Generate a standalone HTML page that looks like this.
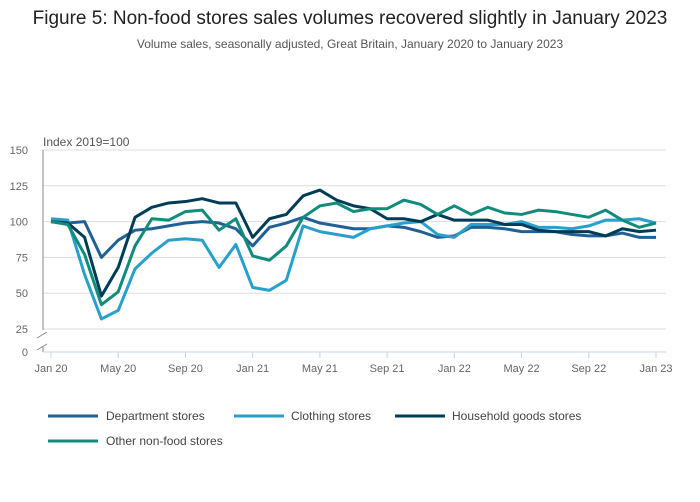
<!DOCTYPE html>
<html><head><meta charset="utf-8"><style>
body{margin:0;background:#fff;font-family:"Liberation Sans",sans-serif;}
#wrap{position:relative;width:700px;height:502px;overflow:hidden;}
svg text{font-family:"Liberation Sans",sans-serif;}
</style></head><body>
<div id="wrap">
<svg id="chart" width="700" height="502">
<text x="350" y="24" text-anchor="middle" font-size="19" fill="#222">Figure 5: Non-food stores sales volumes recovered slightly in January 2023</text>
<text x="350" y="48" text-anchor="middle" font-size="12" fill="#555">Volume sales, seasonally adjusted, Great Britain, January 2020 to January 2023</text>
<text x="43" y="146" font-size="12" fill="#555">Index 2019=100</text>
<g id="grid"></g><g id="series"></g><g id="xaxis"></g>
<g>
<line x1="48" y1="416" x2="98" y2="416" stroke="#206095" stroke-width="3"/>
<text x="106" y="420" font-size="12" fill="#444">Department stores</text>
<line x1="234" y1="416" x2="284" y2="416" stroke="#27a0cc" stroke-width="3"/>
<text x="291" y="420" font-size="12" fill="#444">Clothing stores</text>
<line x1="395" y1="416" x2="445" y2="416" stroke="#003c57" stroke-width="3"/>
<text x="452" y="420" font-size="12" fill="#444">Household goods stores</text>
<line x1="48" y1="441" x2="98" y2="441" stroke="#118c7b" stroke-width="3"/>
<text x="106" y="445" font-size="12" fill="#444">Other non-food stores</text>
</g>
</svg></div>
<script>
const yTicks=[150,125,100,75,50,25];
const xTickLabels=["Jan 20","May 20","Sep 20","Jan 21","May 21","Sep 21","Jan 22","May 22","Sep 22","Jan 23"];
const department=[100,99,100,75,87,94,95,97,99,100,99,95,83,96,99,103,99,97,95,95,97,96,93,89,90,96,96,95,93,93,93,91,90,90,92,89,89];
const clothing=[102,101,63,32,38,67,78,87,88,87,68,84,54,52,59,97,93,91,89,95,97,99,100,91,89,98,98,98,100,96,96,95,97,101,101,102,99];
const household=[100,99,89,48,68,103,110,113,114,116,113,113,89,102,105,118,122,115,111,109,102,102,100,105,101,101,101,98,98,94,93,93,93,90,95,93,94];
const other=[100,98,77,42,51,83,102,101,107,108,94,102,76,73,83,103,111,113,107,109,109,115,112,105,111,105,110,106,105,108,107,105,103,108,101,96,99];
const NS="http://www.w3.org/2000/svg";
const x=i=>51+i*(605/36);
const y=v=>329-(v-25)*(179/125);
function mk(t,a,p){const e=document.createElementNS(NS,t);for(const k in a)e.setAttribute(k,a[k]);p.appendChild(e);return e;}
const grid=document.getElementById('grid');
yTicks.forEach(v=>{
 const l=mk('line',{x1:43,x2:666,y1:y(v),y2:y(v),stroke:'#ddd','stroke-width':1},grid);
 
 
 const t=mk('text',{x:28,y:y(v)+4,'text-anchor':'end','font-size':11,fill:'#666'},grid);
 t.textContent=v;
 
 
});
const z=mk('text',{x:28,y:356,'text-anchor':'end','font-size':11,fill:'#666'},grid);z.textContent='0';


mk('line',{x1:43,x2:43,y1:150,y2:330,stroke:'#888'},grid);
mk('line',{x1:43,x2:43,y1:346,y2:352,stroke:'#888'},grid);
mk('line',{x1:37,x2:47,y1:338,y2:332,stroke:'#888'},grid);
mk('line',{x1:37,x2:47,y1:350,y2:344,stroke:'#888'},grid);
const xa=document.getElementById('xaxis');
mk('line',{x1:43,x2:666,y1:352,y2:352,stroke:'#c4d4e8'},xa);
xTickLabels.forEach((s,k)=>{
 const xi=x(k*4);
 mk('line',{x1:xi,x2:xi,y1:352,y2:358,stroke:'#c4d4e8'},xa);
 const t=mk('text',{x:xi,y:372,'text-anchor':'middle','font-size':11,fill:'#666'},xa);
 t.textContent=s;
 
 
});
const sg=document.getElementById('series');
[[department,'#206095','department-stores-line'],[clothing,'#27a0cc','clothing-stores-line'],[household,'#003c57','household-goods-line'],[other,'#118c7b','other-non-food-line']].forEach(([d,c,n])=>{
 const p=mk('polyline',{points:d.map((v,i)=>x(i)+','+y(v)).join(' '),fill:'none',stroke:c,'stroke-width':3,'stroke-linejoin':'round'},sg);
 
 
});
</script>
</body></html>
